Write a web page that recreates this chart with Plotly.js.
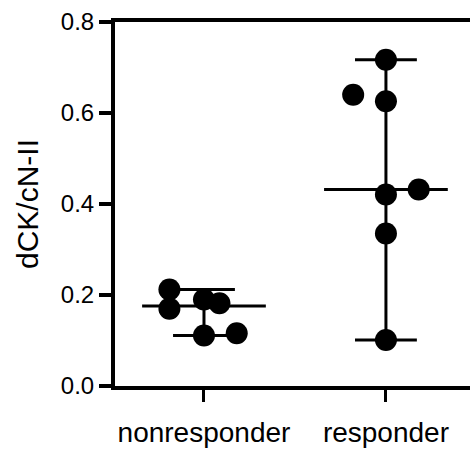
<!DOCTYPE html>
<html>
<head>
<meta charset="utf-8">
<script src="https://cdn.plot.ly/plotly-3.0.1.min.js"></script>
<style>html,body{margin:0;padding:0;background:#fff;}#chart{width:470px;height:450px;}</style>
</head>
<body>
<div id="chart"></div>
<script>
const categories = ['nonresponder', 'responder'];
const nonresponder = [0.212, 0.170, 0.190, 0.182, 0.111, 0.116];
const responder = [0.717, 0.640, 0.626, 0.432, 0.421, 0.335, 0.101];
// horizontal scatter offsets of points within each column (category units)
const nonresponderJitter = [-0.19, -0.19, 0, 0.085, 0, 0.18];
const responderJitter = [0, -0.18, 0, 0.18, 0, 0, 0];
const yTicks = [0.0, 0.2, 0.4, 0.6, 0.8];

const groups = [nonresponder, responder];
const jitters = [nonresponderJitter, responderJitter];

function median(a) {
  const s = a.slice().sort((p, q) => p - q);
  const n = s.length;
  return n % 2 ? s[(n - 1) / 2] : (s[n / 2 - 1] + s[n / 2]) / 2;
}

const traces = [];
const lineStyle = {color: '#000', width: 3};
const wHalf = 0.17, mHalf = 0.34;
groups.forEach((vals, i) => {
  const mn = Math.min(...vals), mx = Math.max(...vals), md = median(vals);
  traces.push({type: 'scatter', mode: 'lines', x: [i, i], y: [mn, mx], line: lineStyle, hoverinfo: 'skip', showlegend: false});
  traces.push({type: 'scatter', mode: 'lines', x: [i - wHalf, i + wHalf], y: [mn, mn], line: lineStyle, hoverinfo: 'skip', showlegend: false});
  traces.push({type: 'scatter', mode: 'lines', x: [i - wHalf, i + wHalf], y: [mx, mx], line: lineStyle, hoverinfo: 'skip', showlegend: false});
  traces.push({type: 'scatter', mode: 'lines', x: [i - mHalf, i + mHalf], y: [md, md], line: lineStyle, hoverinfo: 'skip', showlegend: false});
});
groups.forEach((vals, i) => {
  traces.push({
    type: 'scatter', mode: 'markers',
    x: vals.map((v, k) => i + jitters[i][k]), y: vals,
    marker: {color: '#000', size: 22, line: {width: 0}},
    name: categories[i], showlegend: false
  });
});

const font = 'Arial, "Liberation Sans", Helvetica, sans-serif';
const layout = {
  width: 470, height: 450,
  margin: {l: 115, r: 0, t: 22, b: 64},
  paper_bgcolor: '#fff', plot_bgcolor: '#fff',
  showlegend: false,
  font: {family: font, color: '#000'},
  xaxis: {
    range: [-0.489, 1.462], tickvals: [0, 1], ticktext: categories,
    showline: true, linewidth: 4, linecolor: '#000', mirror: true,
    ticks: 'outside', ticklen: 12, tickwidth: 3, tickcolor: '#000',
    showgrid: false, zeroline: false, ticklabelstandoff: 6,
    tickfont: {family: font, size: 28, color: '#000'}
  },
  yaxis: {
    range: [0, 0.8], tickvals: yTicks, ticktext: yTicks.map(v => v.toFixed(1)),
    showline: true, linewidth: 4, linecolor: '#000',
    ticks: 'outside', ticklen: 12, tickwidth: 4, tickcolor: '#000',
    showgrid: false, zeroline: false,
    tickfont: {family: font, size: 24, color: '#000'},
    title: {text: 'dCK/cN-II', font: {family: font, size: 30, color: '#000'}, standoff: 14}
  }
};
Plotly.newPlot('chart', traces, layout, {displayModeBar: false, staticPlot: true});
</script>
</body>
</html>
